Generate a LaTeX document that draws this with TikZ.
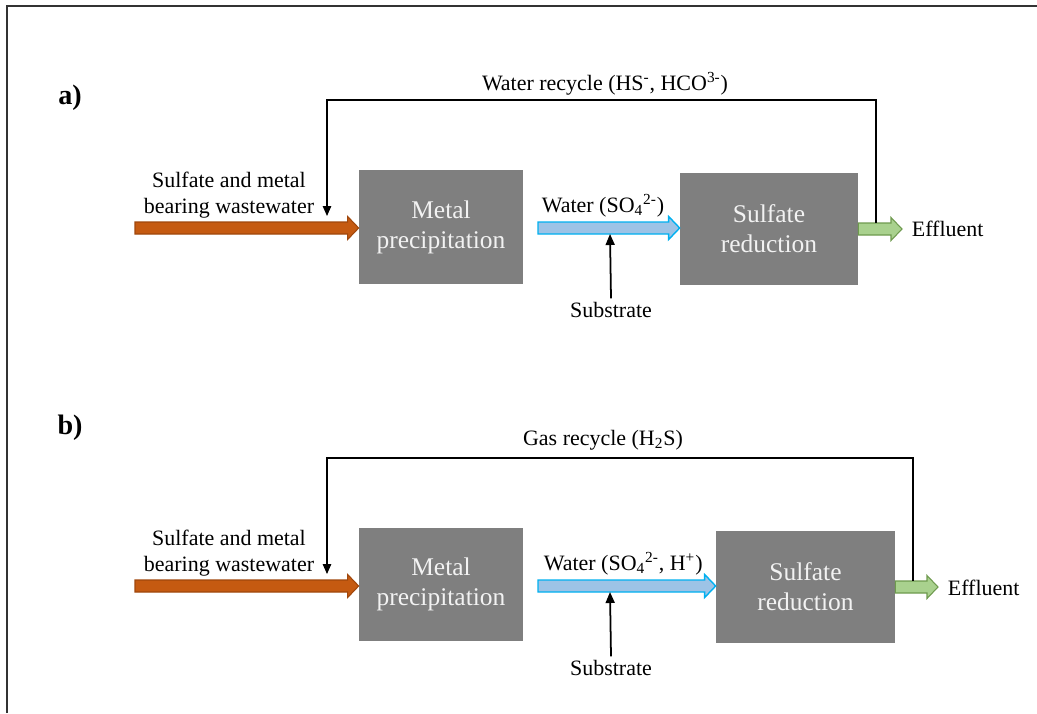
\documentclass[tikz,border=0pt]{standalone}
\usepackage{fontspec}
\setmainfont{Liberation Serif}
\usetikzlibrary{arrows.meta,calc}
\definecolor{unitgray}{HTML}{7F7F7F}
\definecolor{unittext}{HTML}{F2F2F2}
\definecolor{rust}{HTML}{C55A11}
\definecolor{rustdark}{HTML}{A0470C}
\definecolor{skyfill}{HTML}{9DC3E6}
\definecolor{skyline}{HTML}{00B0F0}
\definecolor{leaf}{HTML}{A9D18E}
\definecolor{leafdark}{HTML}{6E9A4E}
\tikzset{
  unit/.style={fill=unitgray,text=unittext,align=center,inner sep=0pt,font=\fontsize{14.5}{17}\selectfont},
  lbl/.style={font=\fontsize{12.5}{14.7}\selectfont,text=black,inner sep=2pt},
  tag/.style={font=\fontsize{16}{18}\selectfont\bfseries,text=black},
  recyc/.style={draw=black,line width=0.7pt,-{Triangle[length=2mm,width=1.7mm]}},
  feed/.style={draw=black,line width=1pt,-{Triangle[length=2.2mm,width=1.8mm]}},
  inflow/.style={fill=rust,draw=rustdark,line width=0.6pt},
  midflow/.style={fill=skyfill,draw=skyline,line width=0.8pt},
  outflow/.style={fill=leaf,draw=leafdark,line width=0.6pt},
}
% fat arrow from #1 to #2 (tip at the x of #2, height of #1)
\newcommand{\fatarrow}[3]{%
  \draw[#3] let \p1=(#1), \p2=(#2) in
    (\x1,\y1+0.12cm) -- (\x2-0.22cm,\y1+0.12cm) -- (\x2-0.22cm,\y1+0.23cm) -- (\x2,\y1)
    -- (\x2-0.22cm,\y1-0.23cm) -- (\x2-0.22cm,\y1-0.12cm) -- (\x1,\y1-0.12cm) -- cycle;}
\begin{document}
\begin{tikzpicture}[x=0.02cm,y=-0.02cm]
  \useasboundingbox (0,0) rectangle (1037,713);
  \draw[line width=1pt,color=black!80] (7,713) -- (7,6) -- (1037,6);

  % a) water recycle
  \node[tag] (tagA) at (70,98) {a)};
  \node[unit,minimum width=3.28cm,minimum height=2.28cm] (precA) at (441,227) {Metal\\precipitation};
  \node[unit,minimum width=3.56cm,minimum height=2.24cm] (redA) at (769,229) {Sulfate\\reduction};
  \coordinate (srcA) at (135,228);
  \coordinate (wA) at (538,228);
  \coordinate (outA) at (902,229);
  \fatarrow{srcA}{precA.west}{inflow}
  \fatarrow{wA}{redA.west}{midflow}
  \fatarrow{redA.east}{outA}{outflow}
  \node[lbl,align=center] (inA) at (229,195) {Sulfate and metal\\bearing wastewater};
  \node[lbl,anchor=west] (wlA) at (538,206) {Water (SO\textsubscript{4}\textsuperscript{2-})};
  \node[lbl] (subA) at (611,310) {Substrate};
  \coordinate (sA) at (610,234);
  \draw[feed] (subA.north) -- (sA);
  \node[lbl,anchor=west] (effA) at (908,229) {Effluent};
  \coordinate (rA1) at (876,223);
  \coordinate (rA2) at (327,100);
  \coordinate (tipA) at (327,216);
  \draw[recyc] (rA1) |- (rA2) -- (tipA);
  \node[lbl] (recA) at (605,84) {Water recycle (HS\textsuperscript{-}, HCO\textsuperscript{3-})};

  % b) gas recycle
  \node[tag] (tagB) at (70,428) {b)};
  \node[unit,minimum width=3.28cm,minimum height=2.26cm] (precB) at (441,584.5) {Metal\\precipitation};
  \node[unit,minimum width=3.58cm,minimum height=2.24cm] (redB) at (805.5,587) {Sulfate\\reduction};
  \coordinate (srcB) at (135,586);
  \coordinate (wB) at (538,586);
  \coordinate (outB) at (938,587);
  \fatarrow{srcB}{precB.west}{inflow}
  \fatarrow{wB}{redB.west}{midflow}
  \fatarrow{redB.east}{outB}{outflow}
  \node[lbl,align=center] (inB) at (229,553) {Sulfate and metal\\bearing wastewater};
  \node[lbl,anchor=west] (wlB) at (540,564) {Water (SO\textsubscript{4}\textsuperscript{2-}, H\textsuperscript{+})};
  \node[lbl] (subB) at (611,668) {Substrate};
  \coordinate (sB) at (610,592);
  \draw[feed] (subB.north) -- (sB);
  \node[lbl,anchor=west] (effB) at (944,588) {Effluent};
  \coordinate (rB1) at (913,581);
  \coordinate (rB2) at (327,458);
  \coordinate (tipB) at (327,574);
  \draw[recyc] (rB1) |- (rB2) -- (tipB);
  \node[lbl] (recB) at (603,440) {Gas recycle (H\textsubscript{2}S)};
\end{tikzpicture}
\end{document}
